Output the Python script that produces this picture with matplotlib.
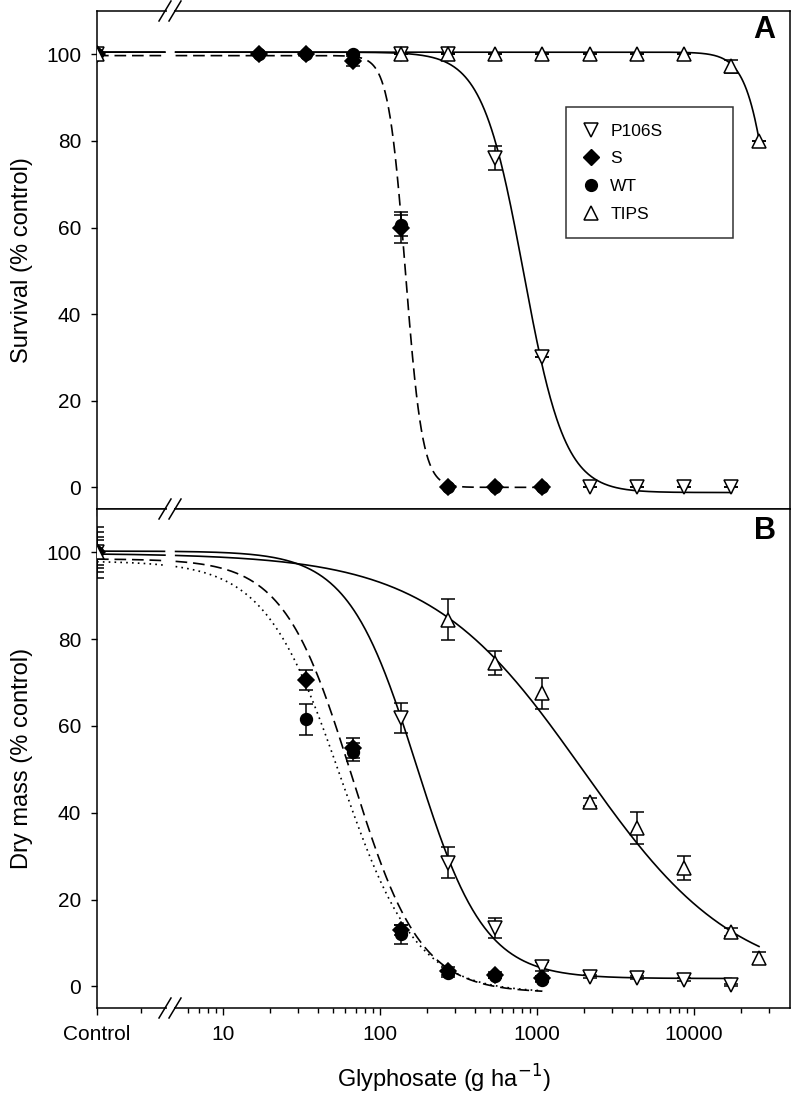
import numpy as np
import matplotlib
matplotlib.use("Agg")
import matplotlib.pyplot as plt
from matplotlib.lines import Line2D
from matplotlib.patches import Polygon

plt.rcParams['font.family'] = ['Liberation Sans', 'DejaVu Sans']

# ---------------- data ----------------
CONTROL = 10 ** 0.197          # position used for the untreated control
X_MAX = 10 ** 4.611
BREAK_LO, BREAK_HI = 10 ** 0.63, 10 ** 0.695

# Panel A - survival (% control)
a_p106s_x = [CONTROL, 135, 270, 540, 1080, 2160, 4320, 8640, 17280]
a_p106s_y = [100, 100, 100, 76, 30, 0, 0, 0, 0]
a_p106s_e = [0, 0, 0, 2.8, 0, 0, 0, 0, 0]

a_s_x = [CONTROL, 16.875, 33.75, 67.5, 135, 270, 540, 1080]
a_s_y = [100, 100, 100, 98.5, 60, 0, 0, 0]
a_s_e = [0, 0, 0, 1.2, 3.5, 0, 0, 0]

a_wt_x = [CONTROL, 16.875, 33.75, 67.5, 135, 270, 540, 1080]
a_wt_y = [100, 100, 100, 100, 60.5, 0, 0, 0]
a_wt_e = [0, 0, 0, 0, 2.5, 0, 0, 0]

a_tips_x = [CONTROL, 135, 270, 540, 1080, 2160, 4320, 8640, 17280, 25920]
a_tips_y = [100, 100, 100, 100, 100, 100, 100, 100, 97.2, 80]
a_tips_e = [0, 0, 0, 0, 0, 0, 0, 0, 1.5, 0]

# Panel B - dry mass (% control)
b_p106s_x = [CONTROL, 135, 270, 540, 1080, 2160, 4320, 8640, 17280]
b_p106s_y = [100, 61.8, 28.5, 13.5, 4.5, 2.2, 2.0, 1.5, 0.3]
b_p106s_e = [4.6, 3.5, 3.6, 2.3, 1.0, 0.4, 0.3, 0.3, 0.3]

b_s_x = [CONTROL, 33.75, 67.5, 135, 270, 540, 1080]
b_s_y = [100, 70.5, 55, 13, 3.5, 2.7, 1.8]
b_s_e = [3.5, 2.3, 2.3, 1.2, 1.0, 0.7, 0.6]

b_wt_x = [CONTROL, 33.75, 67.5, 135, 270, 540, 1080]
b_wt_y = [100, 61.5, 54, 12, 3, 2.4, 1.5]
b_wt_e = [2.8, 3.5, 2.0, 2.2, 0.8, 0.5, 0.5]

b_tips_x = [CONTROL, 270, 540, 1080, 2160, 4320, 8640, 17280, 25920]
b_tips_y = [100, 84.5, 74.5, 67.5, 42.5, 36.5, 27.3, 12.5, 6.5]
b_tips_e = [5.8, 4.7, 2.8, 3.5, 1.0, 3.6, 2.8, 1.0, 1.4]

# fitted log-logistic curves: (b, c, d, e, last dose)
a_fit_p106s = (3.3, -1.2, 100.5, 820, 17280)
a_fit_s = (8.0, 0.0, 99.7, 145, 1080)
a_fit_tips = (5.33, 0.0, 100.5, 33600, 25920)
b_fit_p106s = (2.0, 1.8, 100.3, 170, 17280)
b_fit_s = (2.0, -1.5, 98.5, 66, 1080)
b_fit_wt = (1.8, -1.5, 98.0, 56, 1080)
b_fit_tips = (0.885, 0.0, 99.8, 1950, 25920)

x_major = [CONTROL, 10, 100, 1000, 10000]
x_major_labels = ['Control', '10', '100', '1000', '10000']
x_minor = [3, 6, 7, 8, 9] + [m * 10 ** k for k in (1, 2, 3) for m in range(2, 10)] + [20000, 30000]
y_ticks = [0, 20, 40, 60, 80, 100]

# ---------------- figure ----------------
W, H = 793, 1111
fig = plt.figure(figsize=(W / 100, H / 100), dpi=100)
axA = fig.add_axes([97 / W, 1 - 509 / H, 693 / W, 498 / H])
axB = fig.add_axes([97 / W, 1 - 1008 / H, 693 / W, 499 / H])

LW = 1.2
mk = dict(color='black', markeredgecolor='black', markeredgewidth=1.1, linestyle='none',
          elinewidth=1.1, capsize=5, capthick=1.1)


def curve(ax, p, ls):
    b, c, d, e, xend = p
    xs = np.logspace(np.log10(CONTROL), np.log10(xend), 800)
    ys = c + (d - c) / (1 + (xs / e) ** b)
    ys[(xs > BREAK_LO) & (xs < BREAK_HI)] = np.nan
    ax.plot(xs, ys, color='black', lw=LW, linestyle=ls, zorder=2)


def series(ax, x, y, e, marker, filled, ms, label=None):
    ax.errorbar(x, y, yerr=e, marker=marker, markersize=ms,
                markerfacecolor='black' if filled else 'white', label=label, zorder=3, **mk)


dash = (0, (7, 3.5))
dot = (0, (1, 2.5))

# panel A
curve(axA, a_fit_tips, '-')
curve(axA, a_fit_p106s, '-')
curve(axA, a_fit_s, dash)
series(axA, a_p106s_x, a_p106s_y, a_p106s_e, 'v', False, 10, 'P106S')
series(axA, a_wt_x, a_wt_y, a_wt_e, 'o', True, 8.5, None)
series(axA, a_s_x, a_s_y, a_s_e, 'D', True, 8.5, 'S')
series(axA, a_tips_x, a_tips_y, a_tips_e, '^', False, 10, 'TIPS')

# panel B
curve(axB, b_fit_tips, '-')
curve(axB, b_fit_p106s, '-')
curve(axB, b_fit_s, dash)
curve(axB, b_fit_wt, dot)
series(axB, b_p106s_x, b_p106s_y, b_p106s_e, 'v', False, 10)
series(axB, b_wt_x, b_wt_y, b_wt_e, 'o', True, 8.5)
series(axB, b_s_x, b_s_y, b_s_e, 'D', True, 8.5)
series(axB, b_tips_x, b_tips_y, b_tips_e, '^', False, 10)

for ax in (axA, axB):
    ax.set_xscale('log')
    ax.set_xlim(CONTROL, X_MAX)
    ax.set_ylim(-5, 110)
    ax.set_yticks(y_ticks)
    ax.set_xticks(x_major)
    ax.set_xticks(x_minor, minor=True)
    ax.set_xticklabels(x_major_labels)
    ax.set_xticklabels([], minor=True)
    ax.tick_params(axis='y', direction='out', length=4.5, width=1.0, labelsize=15, pad=7)
    ax.tick_params(axis='x', which='major', direction='out', length=5, width=1.0, labelsize=15, pad=7)
    ax.tick_params(axis='x', which='minor', direction='out', length=3.5, width=1.0)
    for s in ax.spines.values():
        s.set_linewidth(1.1)

axA.tick_params(axis='x', which='both', labelbottom=False)
axA.set_ylabel('Survival (% control)', fontsize=17, labelpad=9)
axB.set_ylabel('Dry mass (% control)', fontsize=17, labelpad=9)
axB.set_xlabel('Glyphosate (g ha$^{-1}$)', fontsize=17, labelpad=14)

axA.text((764 - 97) / 693, (509 - 30) / 498, 'A', transform=axA.transAxes,
         fontsize=22, fontweight='bold', ha='center', va='center')
axB.text((765 - 97) / 693, (1008 - 531) / 499, 'B', transform=axB.transAxes,
         fontsize=22, fontweight='bold', ha='center', va='center')

# legend (markers only)
handles = [Line2D([], [], marker='v', ms=10, mfc='white', mec='black', mew=1.1, ls='none'),
           Line2D([], [], marker='D', ms=8.5, mfc='black', mec='black', ls='none'),
           Line2D([], [], marker='o', ms=8.5, mfc='black', mec='black', ls='none'),
           Line2D([], [], marker='^', ms=10, mfc='white', mec='black', mew=1.1, ls='none')]
x0 = (566 - 97) / 693
x1 = (733 - 97) / 693
ytop = (509 - 107) / 498
leg = axA.legend(handles, ['P106S', 'S', 'WT', 'TIPS'], loc='upper left',
                 bbox_to_anchor=(x0, ytop - 0.3, x1 - x0, 0.3), mode='expand',
                 fontsize=12.5, frameon=True, fancybox=False, edgecolor='black',
                 handlelength=1.0, handletextpad=0.6, labelspacing=0.72, borderpad=0.95,
                 borderaxespad=0)
leg.get_frame().set_linewidth(1.1)


# axis break marks
def brk(px, py):
    y = 1 - py / H
    for off in (-5, 5):
        fig.add_artist(Line2D([(px + off - 6) / W, (px + off + 6) / W],
                              [y - 10 / H, y + 10 / H], color='black', lw=1.1, zorder=10))
    poly = Polygon([[(px - 5 + 1.5) / W, y - 2 / H], [(px + 5 - 1.5) / W, y - 2 / H],
                    [(px + 5 - 1.5) / W, y + 2 / H], [(px - 5 + 1.5) / W, y + 2 / H]],
                   closed=True, facecolor='white', edgecolor='none', zorder=9,
                   transform=fig.transFigure)
    fig.add_artist(poly)


for py in (11, 509, 1008):
    brk(170, py)

fig.savefig('out.png', dpi=100)
